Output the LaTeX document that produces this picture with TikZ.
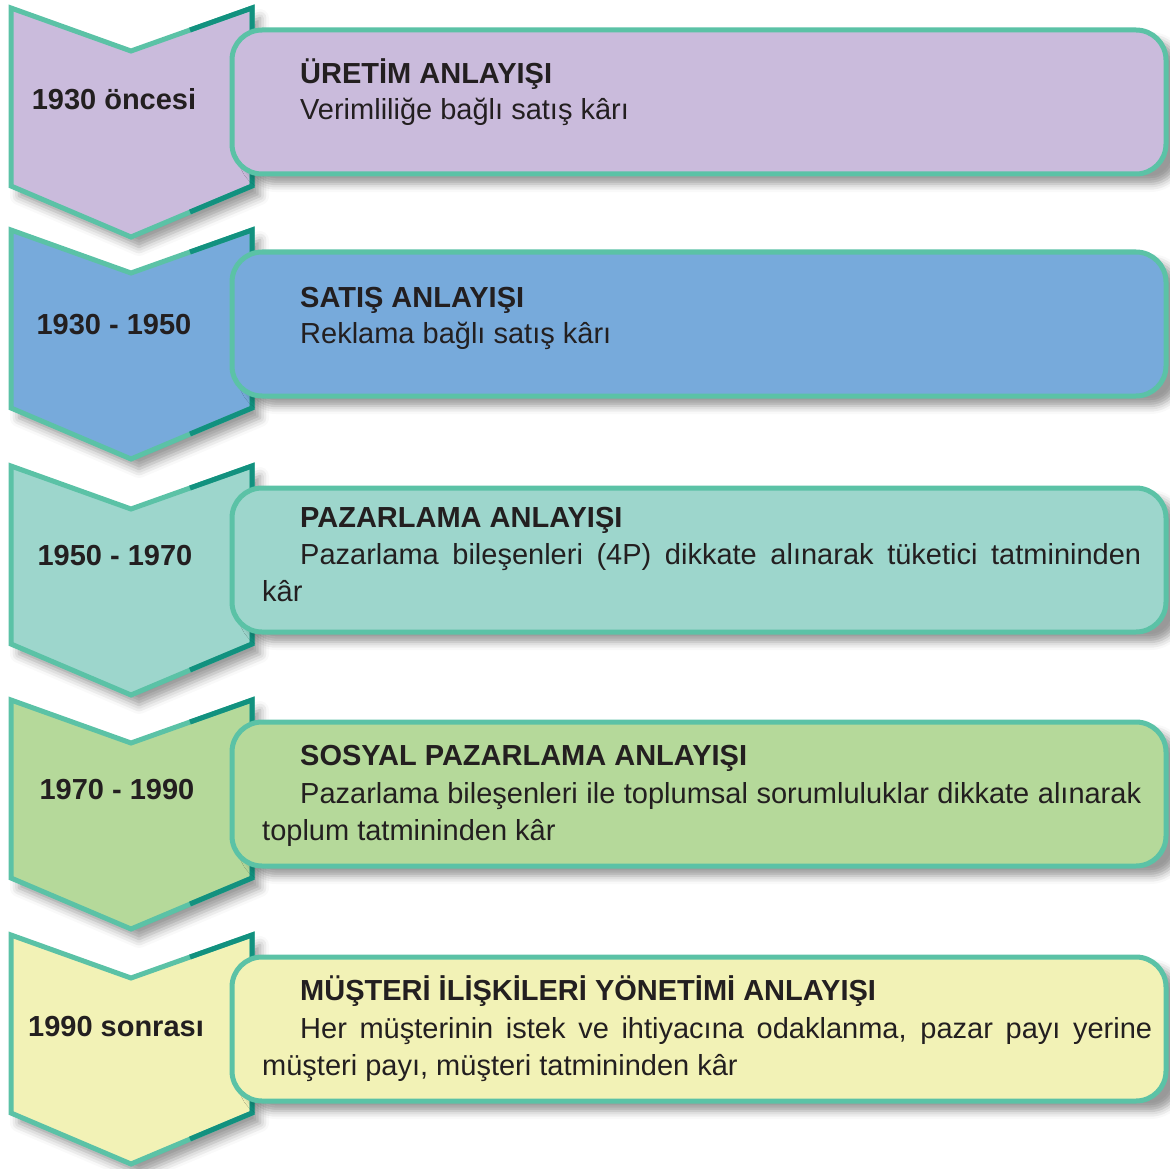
\documentclass[tikz,border=0pt]{standalone}
\usepackage{fontspec}
\setmainfont{Liberation Sans}
\usetikzlibrary{shadows.blur}

\definecolor{edgelight}{HTML}{5BC2A6}
\definecolor{edgedark}{HTML}{12917F}
\definecolor{inktext}{HTML}{231F20}
\definecolor{fillpurple}{HTML}{CABBDC}
\definecolor{fillblue}{HTML}{77AADB}
\definecolor{fillteal}{HTML}{9DD6CC}
\definecolor{fillgreen}{HTML}{B5D99A}
\definecolor{fillyellow}{HTML}{F2F2B6}

\tikzset{
  eraband/.style={line width=5pt, draw=edgelight, line join=miter,
    blur shadow={shadow xshift=8pt, shadow yshift=-10pt, shadow blur radius=9pt, shadow opacity=40}},
  eraedge/.style={line width=5pt, draw=edgedark, line join=miter},
  eracard/.style={line width=5pt, draw=edgelight, rounded corners=30pt,
    blur shadow={shadow xshift=14pt, shadow yshift=-10pt, shadow blur radius=8pt, shadow opacity=40}},
  yearlabel/.style={font=\bfseries\fontsize{29}{34}\selectfont, text=inktext, anchor=base, inner sep=0pt},
  cardtitle/.style={font=\bfseries\fontsize{29}{34}\selectfont, text=inktext, anchor=base west, inner sep=0pt},
  cardbody/.style={font=\fontsize{29}{37.5}\selectfont, text=inktext, anchor=base west, inner sep=0pt},
  cardpara/.style={cardbody, align=justify},
}

\begin{document}
\begin{tikzpicture}[x=1pt,y=-1pt]
  \useasboundingbox (0,0) rectangle (1170,1169);

  % chevrons and cards
  \foreach \top/\shade in {8/fillpurple, 230/fillblue, 466/fillteal, 700/fillgreen, 935/fillyellow} {
    \filldraw[eraband, fill=\shade] (11,\top) -- (131,\top+43) -- (252,\top) -- (252,\top+178)
      -- (131,\top+229) -- (11,\top+178) -- cycle;
    \draw[eraedge] (190,\top+22) -- (252,\top) -- (252,\top+178) -- (190,\top+204);
    \filldraw[eracard, fill=\shade] (232,\top+22) rectangle (1166,\top+166);
  }

  % periods
  \node[yearlabel] (year1) at (114,110) {1930 öncesi};
  \node[yearlabel] (year2) at (114,334) {1930 - 1950};
  \node[yearlabel] (year3) at (115,565) {1950 - 1970};
  \node[yearlabel] (year4) at (117,799) {1970 - 1990};
  \node[yearlabel] (year5) at (116,1036) {1990 sonrası};

  % card texts
  \node[cardtitle] (title1) at (300,84) {ÜRETİM ANLAYIŞI};
  \node[cardbody] (body1) at (300,120) {Verimliliğe bağlı satış kârı};

  \node[cardtitle] (title2) at (300,307) {SATIŞ ANLAYIŞI};
  \node[cardbody] (body2) at (300,343) {Reklama bağlı satış kârı};

  \node[cardtitle] (title3) at (300,527) {PAZARLAMA ANLAYIŞI};
  \node[cardpara, text width=879pt] (body3) at (262,564)
    {\hspace*{38pt}Pazarlama bileşenleri (4P) dikkate alınarak tüketici tatmininden\linebreak kâr};

  \node[cardtitle] (title4) at (300,765) {SOSYAL PAZARLAMA ANLAYIŞI};
  \node[cardpara, text width=879pt] (body4) at (262,803)
    {\hspace*{38pt}Pazarlama bileşenleri ile toplumsal sorumluluklar dikkate alınarak\linebreak toplum tatmininden kâr};

  \node[cardtitle] (title5) at (300,1000) {MÜŞTERİ İLİŞKİLERİ YÖNETİMİ ANLAYIŞI};
  \node[cardpara, text width=890pt] (body5) at (262,1038)
    {\hspace*{38pt}Her müşterinin istek ve ihtiyacına odaklanma, pazar payı yerine\linebreak müşteri payı, müşteri tatmininden kâr};
\end{tikzpicture}
\end{document}
